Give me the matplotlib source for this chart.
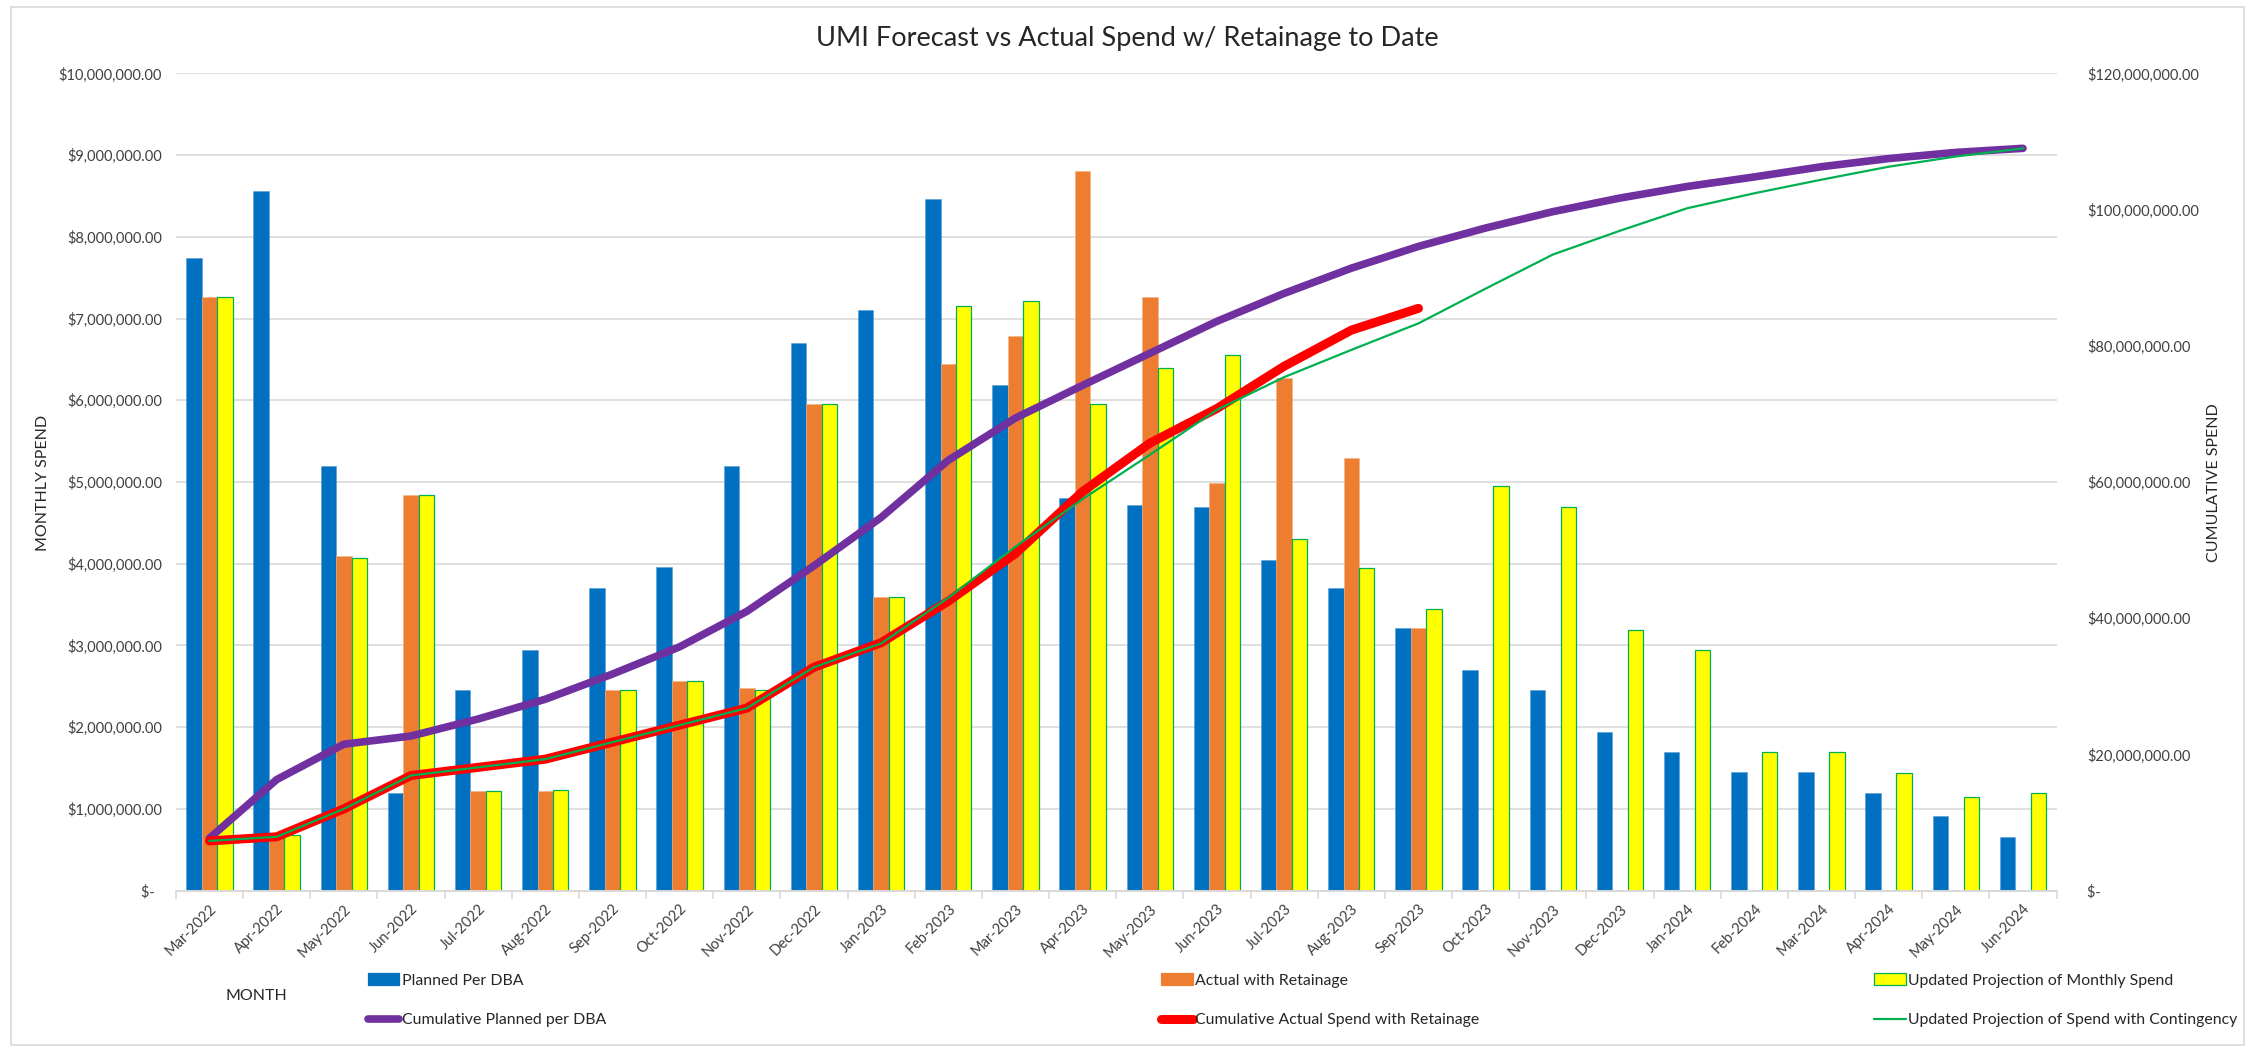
import numpy as np
import matplotlib.pyplot as plt
from matplotlib.patches import Rectangle
from matplotlib.ticker import FuncFormatter, MultipleLocator, FixedLocator

plt.rcParams['font.family'] = ['Lato', 'DejaVu Sans']

months = ["Mar-2022", "Apr-2022", "May-2022", "Jun-2022", "Jul-2022", "Aug-2022",
          "Sep-2022", "Oct-2022", "Nov-2022", "Dec-2022", "Jan-2023", "Feb-2023",
          "Mar-2023", "Apr-2023", "May-2023", "Jun-2023", "Jul-2023", "Aug-2023",
          "Sep-2023", "Oct-2023", "Nov-2023", "Dec-2023", "Jan-2024", "Feb-2024",
          "Mar-2024", "Apr-2024", "May-2024", "Jun-2024"]

# monthly values, $M
planned = [7.74, 8.56, 5.20, 1.20, 2.45, 2.95, 3.70, 3.96, 5.20, 6.70, 7.10, 8.46,
           6.19, 4.80, 4.72, 4.70, 4.05, 3.70, 3.21, 2.70, 2.45, 1.94, 1.70, 1.45,
           1.45, 1.20, 0.91, 0.66]
actual = [7.27, 0.68, 4.09, 4.84, 1.22, 1.22, 2.46, 2.57, 2.48, 5.96, 3.59, 6.45,
          6.79, 8.80, 7.27, 4.99, 6.27, 5.30, 3.21]
projected = [7.27, 0.68, 4.07, 4.84, 1.22, 1.23, 2.45, 2.57, 2.46, 5.96, 3.59, 7.15,
             7.21, 5.95, 6.39, 6.55, 4.30, 3.95, 3.45, 4.95, 4.70, 3.19, 2.95, 1.70,
             1.70, 1.44, 1.14, 1.20]

# cumulative values, $M (right axis)
cum_planned = [7.7, 16.3, 21.5, 22.7, 25.2, 28.1, 31.8, 35.8, 41.0, 47.7, 54.8, 63.2,
               69.4, 74.2, 78.9, 83.6, 87.7, 91.4, 94.6, 97.3, 99.7, 101.7, 103.4,
               104.8, 106.3, 107.5, 108.4, 109.0]
cum_actual = [7.3, 7.9, 12.0, 16.9, 18.1, 19.3, 21.8, 24.3, 26.8, 32.8, 36.4, 42.5,
              49.5, 58.6, 65.7, 70.8, 77.0, 82.3, 85.5]
cum_projected = [7.3, 7.9, 12.0, 16.9, 18.1, 19.3, 21.8, 24.3, 26.8, 32.8, 36.3, 43.0,
                 50.5, 57.5, 64.0, 70.6, 75.4, 79.4, 83.3, 88.4, 93.4, 96.9, 100.2,
                 102.4, 104.4, 106.3, 107.8, 109.0]

BLUE = '#0070C0'
ORANGE = '#ED7D31'
YELLOW = '#FFFF00'
PURPLE = '#7030A0'
RED = '#FF0000'
GREEN = '#00B050'

def money(v, pos=None):
    if abs(v) < 1e-6:
        return '$-  '
    return '${:,.2f}'.format(v)

fig = plt.figure(figsize=(22.55, 10.49), dpi=100)
ax = fig.add_axes([0.078, 0.151, 0.834, 0.779])
ax2 = ax.twinx()

x = np.arange(len(months))
w = 0.23
M = 1e6
ax.bar(x - w, np.array(planned) * M, w, color=BLUE, edgecolor='#5B9BD5', linewidth=0.4, zorder=2)
ax.bar(x[:len(actual)], np.array(actual) * M, w, color=ORANGE, edgecolor='#F4B183', linewidth=0.4, zorder=2)
ax.bar(x + w, np.array(projected) * M, w, color=YELLOW, edgecolor=GREEN, linewidth=0.9, zorder=2)

ax2.plot(x, np.array(cum_planned) * M, color=PURPLE, lw=5.5, solid_capstyle='round',
         solid_joinstyle='round', zorder=3)
ax2.plot(x[:len(cum_actual)], np.array(cum_actual) * M, color=RED, lw=6.5,
         solid_capstyle='round', solid_joinstyle='round', zorder=4)
ax2.plot(x, np.array(cum_projected) * M, color=GREEN, lw=1.6, zorder=5)

ax.set_xlim(-0.5, len(months) - 0.5)
ax.set_ylim(0, 10 * M)
ax2.set_ylim(0, 120 * M)
ax.yaxis.set_major_locator(MultipleLocator(1 * M))
ax2.yaxis.set_major_locator(MultipleLocator(20 * M))
ax.yaxis.set_major_formatter(FuncFormatter(money))
ax2.yaxis.set_major_formatter(FuncFormatter(money))
ax.grid(axis='y', color='#D9D9D9', lw=1.2, zorder=0)
ax.set_axisbelow(True)

ax.set_xticks(x)
ax.set_xticklabels(months, rotation=45, ha='right', rotation_mode='anchor', fontsize=10.5, color='#404040')
ax.xaxis.set_minor_locator(FixedLocator(np.arange(-0.5, len(months), 1.0)))
ax.tick_params(axis='x', which='major', length=0, pad=8)
ax.tick_params(axis='x', which='minor', length=6, color='#D9D9D9', width=1.2)
ax.tick_params(axis='y', length=0, labelsize=10.5, labelcolor='#404040', pad=10)
ax2.tick_params(axis='y', length=0, labelsize=10.5, labelcolor='#404040', pad=22)
for a in (ax, ax2):
    for s in ('top', 'left', 'right'):
        a.spines[s].set_visible(False)
    a.spines['bottom'].set_color('#D9D9D9')
    a.spines['bottom'].set_linewidth(1.2)

fig.suptitle('UMI Forecast vs Actual Spend w/ Retainage to Date', y=0.975, fontsize=19.5, color='#262626')
fig.text(0.019, 0.54, 'MONTHLY SPEND', rotation=90, ha='center', va='center', fontsize=11.5, color='#262626')
fig.text(0.982, 0.54, 'CUMULATIVE SPEND', rotation=90, ha='center', va='center', fontsize=11.5, color='#262626')
fig.text(0.1135, 0.051, 'MONTH', ha='center', va='center', fontsize=11.5, color='#262626')

# legend in three columns, as in the source
cols = [
    (0.163, [('bar', BLUE, BLUE, 'Planned Per DBA'), ('line', PURPLE, 5.5, 'Cumulative Planned per DBA')]),
    (0.515, [('bar', ORANGE, ORANGE, 'Actual with Retainage'), ('line', RED, 6.5, 'Cumulative Actual Spend with Retainage')]),
    (0.831, [('bar', YELLOW, GREEN, 'Updated Projection of Monthly Spend'), ('line', GREEN, 1.6, 'Updated Projection of Spend with Contingency')]),
]
for xpos, entries in cols:
    handles, labels = [], []
    for kind, c, extra, lab in entries:
        if kind == 'bar':
            handles.append(Rectangle((0, 0), 1, 1, facecolor=c, edgecolor=extra, lw=0.9))
        else:
            handles.append(plt.Line2D([], [], color=c, lw=extra, solid_capstyle='round'))
        labels.append(lab)
    fig.legend(handles, labels, loc='upper left', bbox_to_anchor=(xpos, 0.072), frameon=False,
               fontsize=11.4, handlelength=2.0, handletextpad=0.15, labelspacing=1.62,
               borderpad=0, borderaxespad=0, labelcolor='#262626')

fig.patches.append(Rectangle((0.005, 0.004), 0.99, 0.989, transform=fig.transFigure,
                             fill=False, edgecolor='#D9D9D9', lw=1.2))

fig.savefig('out.png', dpi=100, facecolor='white')
